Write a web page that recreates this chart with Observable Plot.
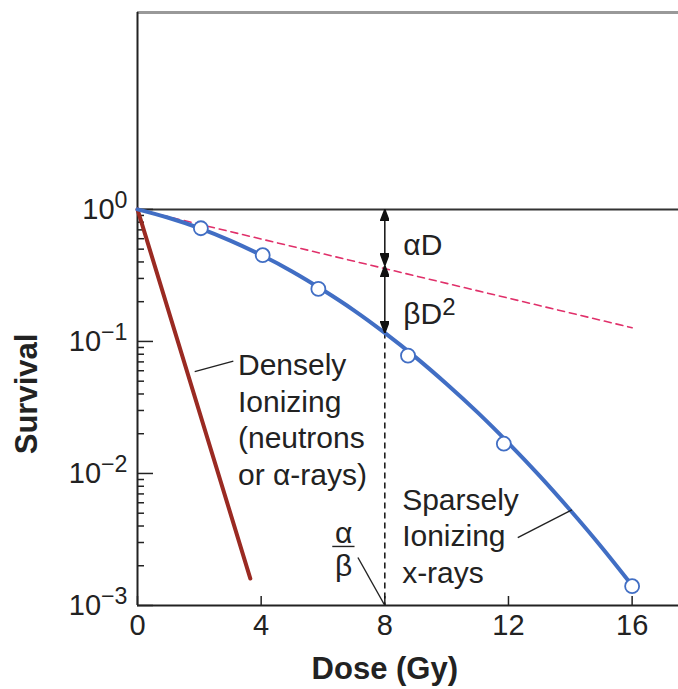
<!DOCTYPE html>
<html><head><meta charset="utf-8">
<script src="https://cdn.jsdelivr.net/npm/d3@7"></script>
<script src="https://cdn.jsdelivr.net/npm/@observablehq/plot@0.6"></script>
<style>body{margin:0;background:#fff}</style>
</head><body><div id="chart"></div>
<script>
// ---- data ----
const doseCurve = [0,1,2,3,4,5,6,7,8,9,10,11,12,13,14,15,16];
const survivalCurve = [1,0.864,0.721,0.580,0.451,0.339,0.245,0.172,0.116,0.0757,0.0476,0.0290,0.0170,0.00964,0.00527,0.00279,0.00142];
const doseMeasured = [2.05,4.05,5.85,8.75,11.85,16];
const survivalMeasured = [0.72,0.45,0.25,0.078,0.0168,0.0014];
const doseAlphaOnly = [0,16];
const survivalAlphaOnly = [1,0.127];
const doseDense = [0,3.65];
const survivalDense = [1,0.0016];
const alphaBetaDose = 8;
const survivalAlphaAtAB = 0.376;
const survivalLQAtAB = 0.116;
const xTicks = [0,4,8,12,16];
const xTickLabels = ["0","4","8","12","16"];
const yMajor = [0.001,0.01,0.1,1];
const yTickLabels = ["10^−3","10^−2","10^−1","10^0"];
const yMinor = [0.002,0.003,0.004,0.005,0.006,0.007,0.008,0.009,
                0.02,0.03,0.04,0.05,0.06,0.07,0.08,0.09,
                0.2,0.3,0.4,0.5,0.6,0.7,0.8,0.9];
const yTop = 31;
const xMax = 17.5;
const labelsStart = [
  {x:8.6, y:0.553, text:"αD"},
  {x:8.6, y:0.166, text:"βD2"},
  {x:3.25, y:0.0261, text:"Densely\nIonizing\n(neutrons\nor α-rays)"},
  {x:8.56, y:0.00345, text:"Sparsely\nIonizing\nx-rays"}
];
const labelsFraction = [
  {x:6.67, y:0.0035, text:"α"},
  {x:6.67, y:0.00197, text:"β"}
];
const leaders = [
  {x1:1.85, y1:0.059, x2:3.1, y2:0.071},
  {x1:12.3, y1:0.00327, x2:14.05, y2:0.0053},
  {x1:7.13, y1:0.00231, x2:8, y2:0.001},
  {x1:6.3, y1:0.0028, x2:7.02, y2:0.0028}
];
const yTitle = "Survival", xTitle = "Dose (Gy)";

const curve = doseCurve.map((d,i)=>({dose:d, s:survivalCurve[i]}));
const measured = doseMeasured.map((d,i)=>({dose:d, s:survivalMeasured[i]}));
const alphaLine = doseAlphaOnly.map((d,i)=>({dose:d, s:survivalAlphaOnly[i]}));
const dense = doseDense.map((d,i)=>({dose:d, s:survivalDense[i]}));
const arrows = [
  {x:alphaBetaDose, y1:1, y2:survivalAlphaAtAB},
  {x:alphaBetaDose, y1:survivalAlphaAtAB, y2:survivalLQAtAB}
];

function filledArrow(color, context) {
  const doc = context.document;
  const ns = "http://www.w3.org/2000/svg";
  const m = doc.createElementNS(ns, "marker");
  m.setAttribute("viewBox", "-12 -4.5 12 9");
  m.setAttribute("markerUnits", "userSpaceOnUse");
  m.setAttribute("markerWidth", 12);
  m.setAttribute("markerHeight", 9);
  m.setAttribute("refX", 0);
  m.setAttribute("refY", 0);
  m.setAttribute("orient", "auto-start-reverse");
  const p = doc.createElementNS(ns, "path");
  p.setAttribute("d", "M-12,-4.5L0,0L-12,4.5Z");
  p.setAttribute("fill", color);
  m.appendChild(p);
  return m;
}

const FONT = "'Liberation Sans', Arial, Helvetica, sans-serif";
const chart = Plot.plot({
  width: 678, height: 689,
  marginLeft: 137, marginRight: 0, marginTop: 12, marginBottom: 84,
  style: {fontFamily: FONT, fontSize: "29px", background: "#fff", color: "#222"},
  x: {domain: [0, xMax]},
  y: {type: "log", domain: [0.001, yTop]},
  marks: [
    Plot.ruleY([yTop], {stroke: "#999", strokeWidth: 3}),
    Plot.ruleY([1], {stroke: "#333", strokeWidth: 2}),
    Plot.axisX({ticks: xTicks, tickFormat: d=>xTickLabels[xTicks.indexOf(d)], tickSize: -9, tickPadding: 18, label: null, stroke: "#222", strokeWidth: 1.5, fill: "#222", fontSize: 29}),
    Plot.axisY({ticks: yMajor, tickFormat: d=>yTickLabels[yMajor.indexOf(d)], tickSize: -16, tickPadding: 26, label: null, stroke: "#222", strokeWidth: 1.5, fill: "#222", fontSize: 29}),
    Plot.axisY({ticks: yMinor, tickSize: -7, fill: "none", label: null, stroke: "#222", strokeWidth: 1.5}),
    Plot.ruleX([0], {stroke: "#222", strokeWidth: 2}),
    Plot.ruleY([0.001], {stroke: "#222", strokeWidth: 2}),
    Plot.ruleX([{x:alphaBetaDose, y1:survivalLQAtAB, y2:0.001}], {x:"x", y1:"y1", y2:"y2", stroke:"#111", strokeWidth:1.5, strokeDasharray:"6,4"}),
    Plot.line(alphaLine, {x:"dose", y:"s", stroke:"#e0306a", strokeWidth:1.6, strokeDasharray:"7,5"}),
    Plot.line(dense, {x:"dose", y:"s", stroke:"#9a2a22", strokeWidth:4}),
    Plot.line(curve, {x:"dose", y:"s", stroke:"#416ec4", strokeWidth:4, curve:"natural"}),
    Plot.dot(measured, {x:"dose", y:"s", r:7, fill:"#fff", stroke:"#416ec4", strokeWidth:1.8}),
    Plot.link(arrows, {x1:"x", x2:"x", y1:"y1", y2:"y2", stroke:"#111", strokeWidth:1.5, markerStart: filledArrow, markerEnd: filledArrow}),
    Plot.link(leaders, {x1:"x1", y1:"y1", x2:"x2", y2:"y2", stroke:"#222", strokeWidth:1.4}),
    Plot.text(labelsStart, {x:"x", y:"y", text:"text", textAnchor:"start", fontSize:30, lineHeight:1.22, fill:"#222"}),
    Plot.text(labelsFraction, {x:"x", y:"y", text:"text", textAnchor:"middle", fontSize:30, fill:"#222"}),
    Plot.text([yTitle], {text:d=>d, y:[0.04], frameAnchor:"left", textAnchor:"middle", lineAnchor:"middle", dx:-110, rotate:-90, fontWeight:"bold", fontSize:31, fill:"#222"}),
    Plot.text([xTitle], {text:d=>d, x:[alphaBetaDose], frameAnchor:"bottom", textAnchor:"middle", lineAnchor:"middle", dy:64, fontWeight:"bold", fontSize:31, fill:"#222"})
  ]
});
document.getElementById("chart").appendChild(chart);

// superscript exponents on the log axis labels and βD²
d3.select(chart).selectAll("text").each(function(){
  const t = this.textContent;
  if (t.includes("^")) {
    const [base, exp] = t.split("^");
    const sel = d3.select(this); sel.text(null);
    sel.append("tspan").text(base);
    sel.append("tspan").attr("dy","-0.45em").attr("font-size","0.8em").text(exp);
  } else if (t === "βD2") {
    const sel = d3.select(this); sel.text(null);
    sel.append("tspan").text("βD");
    sel.append("tspan").attr("dy","-0.4em").attr("font-size","0.8em").text("2");
  }
});
</script>
</body></html>
